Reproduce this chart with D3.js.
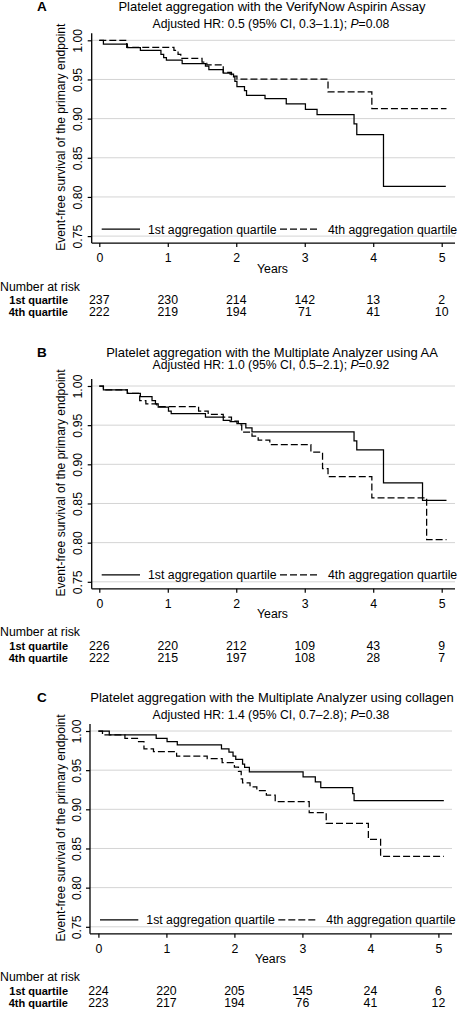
<!DOCTYPE html>
<html><head><meta charset="utf-8">
<script src="https://cdn.jsdelivr.net/npm/d3@7"></script>
<style>
html,body{margin:0;padding:0;background:#fff;}
text{font-family:"Liberation Sans",Arial,sans-serif;fill:#000;}
</style></head>
<body><div id="chart"></div>
<script>
// ---------- DATA ----------
const yearTicks = [0,1,2,3,4,5];
const survTicks = [0.75,0.80,0.85,0.90,0.95,1.00];
const seriesNames = ["1st aggregation quartile","4th aggregation quartile"];
const riskRowLabels = ["1st quartile","4th quartile"];

const titleA = "Platelet aggregation with the VerifyNow Aspirin Assay";
const titleB = "Platelet aggregation with the Multiplate Analyzer using AA";
const titleC = "Platelet aggregation with the Multiplate Analyzer using collagen";
const hrA = ["Adjusted HR: 0.5 (95% CI, 0.3\u20131.1); ","=0.08"];
const hrB = ["Adjusted HR: 1.0 (95% CI, 0.5\u20132.1); ","=0.92"];
const hrC = ["Adjusted HR: 1.4 (95% CI, 0.7\u20132.8); ","=0.38"];

// [years, survival] step points
const curveA1 = [[0,1],[0.06,0.995],[0.41,0.9906],[0.60,0.987],[0.90,0.982],[0.94,0.978],[0.98,0.9746],[1.21,0.9703],[1.55,0.967],[1.60,0.9627],[1.81,0.958],[1.91,0.9568],[1.96,0.9534],[1.98,0.9474],[2.01,0.9407],[2.12,0.9356],[2.15,0.9296],[2.42,0.9254],[2.73,0.9187],[3.01,0.9118],[3.18,0.905],[3.72,0.8933],[3.76,0.8797],[4.15,0.8136],[5.06,0.8136]];
const curveA4 = [[0,1],[0.40,0.991],[1.09,0.987],[1.15,0.982],[1.19,0.977],[1.50,0.972],[1.57,0.9686],[1.81,0.959],[1.93,0.9543],[2.01,0.9504],[3.34,0.934],[3.98,0.9127],[5.07,0.9127]];
const curveB1 = [[0,1],[0.06,0.9949],[0.41,0.9907],[0.60,0.9865],[0.77,0.9814],[0.82,0.9772],[0.86,0.973],[1.01,0.968],[1.05,0.9646],[1.55,0.9604],[1.81,0.956],[1.91,0.9544],[2.01,0.9519],[2.14,0.9465],[2.23,0.9414],[3.72,0.930],[3.76,0.9186],[4.15,0.8763],[4.72,0.854],[5.07,0.854]];
const curveB4 = [[0,1],[0.06,0.9949],[0.41,0.9907],[0.59,0.9814],[0.68,0.9772],[0.84,0.9738],[1.45,0.968],[1.59,0.9637],[1.81,0.9604],[1.93,0.9553],[2.03,0.9503],[2.08,0.941],[2.23,0.936],[2.32,0.931],[2.49,0.9253],[3.09,0.9156],[3.26,0.8945],[3.34,0.8844],[3.98,0.8573],[4.78,0.8038],[5.07,0.8038]];
const curveC1 = [[0,1],[0.16,0.9949],[0.85,0.9907],[1.01,0.9865],[1.16,0.9823],[1.81,0.9772],[1.92,0.973],[1.98,0.968],[2.02,0.9637],[2.12,0.9578],[2.15,0.9536],[2.22,0.9477],[3.01,0.9414],[3.19,0.935],[3.27,0.9278],[3.74,0.92],[3.76,0.911],[5.08,0.911]];
const curveC4 = [[0,1],[0.06,0.9949],[0.39,0.9907],[0.59,0.9865],[0.67,0.9772],[0.81,0.9738],[1.15,0.968],[1.60,0.9646],[1.82,0.9595],[2.00,0.954],[2.06,0.9485],[2.10,0.939],[2.12,0.9338],[2.23,0.9287],[2.33,0.924],[2.47,0.918],[2.60,0.9097],[3.10,0.8958],[3.35,0.882],[3.97,0.8616],[4.15,0.840],[5.08,0.840]];

const riskA1 = [237,230,214,142,13,2];
const riskA4 = [222,219,194,71,41,10];
const riskB1 = [226,220,212,109,43,9];
const riskB4 = [222,215,197,108,28,7];
const riskC1 = [224,220,205,145,24,6];
const riskC4 = [223,217,194,76,41,12];

// ---------- LAYOUT ----------
const W = 458, H = 1010;
const panels = [
  {letter:"A", title:titleA, hr:hrA, c1:curveA1, c4:curveA4, r1:riskA1, r4:riskA4,
   yTop:40.3, subOff:12.6, xl:91.7, x0:99.3, x5:441.7, xr:455},
  {letter:"B", title:titleB, hr:hrB, c1:curveB1, c4:curveB4, r1:riskB1, r4:riskB4,
   yTop:386, subOff:16.6, xl:91.7, x0:99.3, x5:441.7, xr:455},
  {letter:"C", title:titleC, hr:hrC, c1:curveC1, c4:curveC4, r1:riskC1, r4:riskC4,
   yTop:731, subOff:11.6, xl:90, x0:98.4, x5:438.4, xr:452}
];
const plotH = 195.8, pad = 7;

const svg = d3.select("#chart").append("svg").attr("width",W).attr("height",H);

panels.forEach(p => {
  const g = svg.append("g");
  const x = d3.scaleLinear().domain([0,5]).range([p.x0,p.x5]);
  const y = d3.scaleLinear().domain([0.75,1]).range([p.yTop+plotH,p.yTop]);
  const yBot = y(0.75)+pad, yTopAxis = y(1)-pad;

  // titles
  g.append("text").attr("x",37).attr("y",y(1)-29).attr("font-size",13.5).attr("font-weight","bold").text(p.letter);
  g.append("text").attr("x",272).attr("y",y(1)-29).attr("text-anchor","middle").attr("font-size",13).text(p.title);
  const st = g.append("text").attr("x",271).attr("y",y(1)-p.subOff).attr("text-anchor","middle").attr("font-size",12.2);
  st.append("tspan").text(p.hr[0]);
  st.append("tspan").attr("font-style","italic").text("P");
  st.append("tspan").text(p.hr[1]);

  // gridlines
  g.append("g").selectAll("line").data(survTicks).join("line")
    .attr("x1",p.xl).attr("x2",p.xr).attr("y1",d=>y(d)).attr("y2",d=>y(d))
    .attr("stroke","#d4d4d4").attr("stroke-width",1);

  // y axis
  const ya = g.append("g").attr("transform",`translate(${p.xl},0)`)
    .call(d3.axisLeft(y).tickValues(survTicks).tickFormat(d3.format(".2f")).tickSize(4).tickSizeOuter(0));
  ya.select(".domain").remove();
  ya.selectAll(".tick line").attr("stroke","#000").attr("stroke-width",1.2);
  ya.selectAll(".tick text").attr("x",0).attr("dy",null).attr("y",-9.5)
    .attr("transform","rotate(-90)").attr("text-anchor","middle")
    .attr("font-size",12.3).attr("font-family","Liberation Sans, Arial, sans-serif").attr("fill","#000");
  g.append("line").attr("x1",p.xl).attr("x2",p.xl).attr("y1",yTopAxis).attr("y2",yBot)
    .attr("stroke","#000").attr("stroke-width",1.3);

  // x axis
  const xa = g.append("g").attr("transform",`translate(0,${yBot})`)
    .call(d3.axisBottom(x).tickValues(yearTicks).tickFormat(d3.format("d")).tickSize(4).tickSizeOuter(0).tickPadding(6));
  xa.select(".domain").remove();
  xa.selectAll(".tick line").attr("stroke","#000").attr("stroke-width",1.2);
  xa.selectAll(".tick text").attr("font-size",12.3).attr("font-family","Liberation Sans, Arial, sans-serif").attr("fill","#000");
  g.append("line").attr("x1",p.xl).attr("x2",p.xr).attr("y1",yBot).attr("y2",yBot)
    .attr("stroke","#000").attr("stroke-width",1.3);

  g.append("text").attr("x",(p.x0+p.x5)/2+2).attr("y",yBot+29.5).attr("text-anchor","middle")
    .attr("font-size",12.3).text("Years");

  // y label
  g.append("text").attr("transform",`translate(64.5,${(yTopAxis+yBot)/2-1}) rotate(-90)`)
    .attr("text-anchor","middle").attr("font-size",12.1).text("Event-free survival of the primary endpoint");

  // curves
  const line = d3.line().x(d=>x(d[0])).y(d=>y(d[1])).curve(d3.curveStepAfter);
  g.append("path").datum(p.c1).attr("d",line).attr("fill","none").attr("stroke","#000").attr("stroke-width",1.25);
  g.append("path").datum(p.c4).attr("d",line).attr("fill","none").attr("stroke","#000").attr("stroke-width",1.25).attr("stroke-dasharray","7,3");

  // legend
  const ly = y(0.75)-7;
  g.append("line").attr("x1",p.xl+10).attr("x2",p.xl+48.3).attr("y1",ly).attr("y2",ly).attr("stroke","#000").attr("stroke-width",1.25);
  g.append("text").attr("x",p.xl+56.3).attr("y",ly+4.4).attr("font-size",12.3).text(seriesNames[0]);
  g.append("line").attr("x1",p.xl+188.3).attr("x2",p.xl+228.3).attr("y1",ly).attr("y2",ly).attr("stroke","#000").attr("stroke-width",1.25).attr("stroke-dasharray","7,3");
  g.append("text").attr("x",p.xl+236.3).attr("y",ly+4.4).attr("font-size",12.3).text(seriesNames[1]);

  // risk table
  g.append("text").attr("x",0).attr("y",yBot+47.4).attr("font-size",12.3).text("Number at risk");
  [[p.r1,57],[p.r4,69]].forEach(([vals,off],i) => {
    g.append("text").attr("x",68).attr("y",yBot+off+4.3).attr("text-anchor","end")
      .attr("font-size",11).attr("font-weight","bold").text(riskRowLabels[i]);
    g.append("g").selectAll("text").data(vals).join("text")
      .attr("x",(d,j)=>x(yearTicks[j])).attr("y",yBot+off+4.3).attr("text-anchor","middle")
      .attr("font-size",12.3).text(d=>d);
  });
});
</script></body></html>
